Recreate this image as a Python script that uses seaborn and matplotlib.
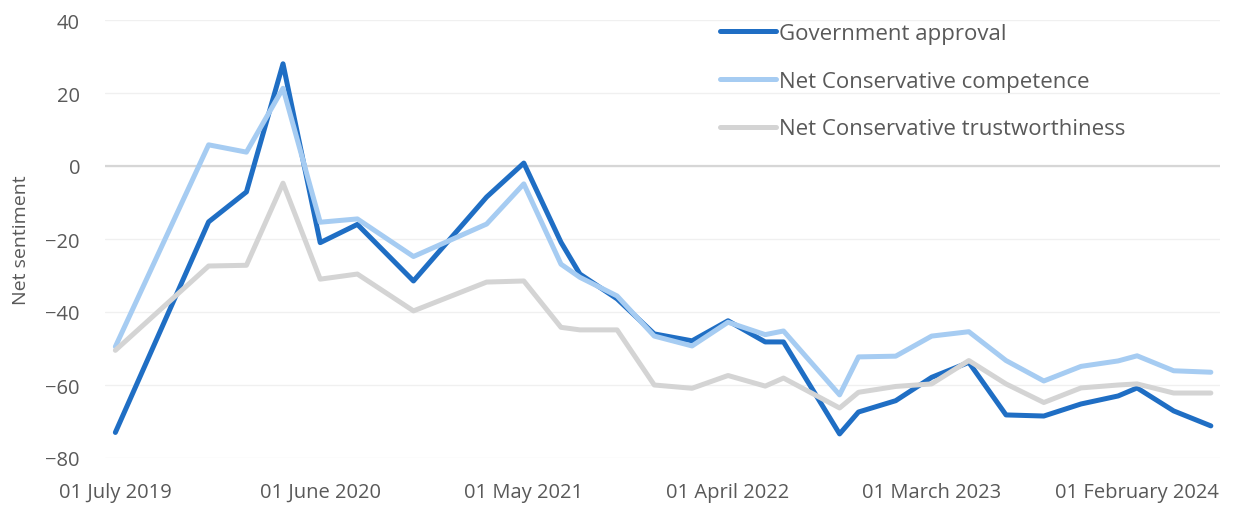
import matplotlib
matplotlib.use("Agg")
import matplotlib.pyplot as plt
import matplotlib.dates as mdates
import seaborn as sns
import pandas as pd

# Survey dates (month of fieldwork)
dates = [
    "2019-07-01", "2019-12-01", "2020-02-01", "2020-04-01", "2020-06-01",
    "2020-08-01", "2020-11-01", "2021-03-01", "2021-05-01", "2021-07-01",
    "2021-08-01", "2021-10-01", "2021-12-01", "2022-02-01", "2022-04-01",
    "2022-06-01", "2022-07-01", "2022-10-01", "2022-11-01", "2023-01-01",
    "2023-03-01", "2023-05-01", "2023-07-01", "2023-09-01", "2023-11-01",
    "2024-01-01", "2024-02-01", "2024-04-01", "2024-06-01",
]

government_approval = [
    -73.0, -15.3, -7.1, 28.0, -21.0, -16.0, -31.5, -8.5, 0.8, -20.9,
    -29.6, -36.4, -46.0, -47.9, -42.4, -48.2, -48.2, -73.4, -67.4, -64.3,
    -57.9, -53.8, -68.2, -68.5, -65.2, -63.0, -60.8, -67.1, -71.2,
]
conservative_competence = [
    -49.5, 5.8, 3.8, 21.3, -15.4, -14.5, -24.8, -15.9, -4.9, -26.9,
    -30.5, -35.6, -46.6, -49.3, -42.8, -46.2, -45.2, -62.7, -52.3, -52.1,
    -46.6, -45.4, -53.3, -58.9, -54.9, -53.4, -52.0, -56.1, -56.5,
]
conservative_trust = [
    -50.5, -27.4, -27.2, -4.7, -31.0, -29.6, -39.7, -31.8, -31.5, -44.2,
    -44.9, -44.9, -60.0, -60.9, -57.4, -60.3, -58.1, -66.3, -62.0, -60.4,
    -59.7, -53.3, -59.7, -64.8, -60.8, -60.0, -59.7, -62.2, -62.2,
]

series_names = [
    "Government approval",
    "Net Conservative competence",
    "Net Conservative trustworthiness",
]
series_colors = ["#1F6EC4", "#A6CCF2", "#D4D4D4"]

tick_dates = ["2019-07-01", "2020-06-01", "2021-05-01",
              "2022-04-01", "2023-03-01", "2024-02-01"]
y_ticks = [40, 20, 0, -20, -40, -60, -80]

df = pd.DataFrame({
    "date": pd.to_datetime(dates * 3),
    "value": government_approval + conservative_competence + conservative_trust,
    "series": sum([[n] * len(dates) for n in series_names], []),
})

sns.set_theme(style="white")
plt.rcParams["font.family"] = ["Open Sans", "DejaVu Sans"]
text_color = "#595959"

fig = plt.figure(figsize=(12.42, 5.06), dpi=100)
ax = fig.add_axes([105 / 1242, 1 - 459 / 506, (1220 - 105) / 1242, (459 - 21) / 506])

sns.lineplot(
    data=df, x="date", y="value", hue="series",
    hue_order=series_names, palette=series_colors,
    linewidth=3.6, legend=False, ax=ax, zorder=3,
)
for line in ax.get_lines():
    line.set_solid_capstyle("round")
    line.set_solid_joinstyle("round")

ax.set_ylim(-80, 40)
ax.set_yticks(y_ticks)
ax.set_xlim(pd.Timestamp("2019-06-14"), pd.Timestamp("2024-06-16"))
ax.set_xticks(pd.to_datetime(tick_dates))
ax.xaxis.set_major_formatter(mdates.DateFormatter("%d %B %Y"))

ax.grid(axis="y", color="#F0F0F0", linewidth=1.0, zorder=0)
ax.grid(axis="x", visible=False)
ax.axhline(0, color="#D6D6D6", linewidth=1.6, zorder=1)
for s in ax.spines.values():
    s.set_visible(False)

ax.tick_params(axis="both", length=0, labelsize=14.5, labelcolor=text_color)
ax.tick_params(axis="y", pad=18)
ax.tick_params(axis="x", pad=17)
ax.set_xlabel("")
ax.set_ylabel("Net sentiment", fontsize=14, color=text_color, labelpad=11)

handles = ax.get_lines()[:3]
leg = fig.legend(
    handles, series_names, loc="upper left",
    bbox_to_anchor=(720 / 1242, 1 - 24 / 506), bbox_transform=fig.transFigure,
    frameon=False, fontsize=16, handlelength=2.5, handletextpad=0.15,
    labelspacing=1.2, borderpad=0, borderaxespad=0,
)
for t in leg.get_texts():
    t.set_color(text_color)

fig.savefig("out.png", dpi=100, facecolor="white")
